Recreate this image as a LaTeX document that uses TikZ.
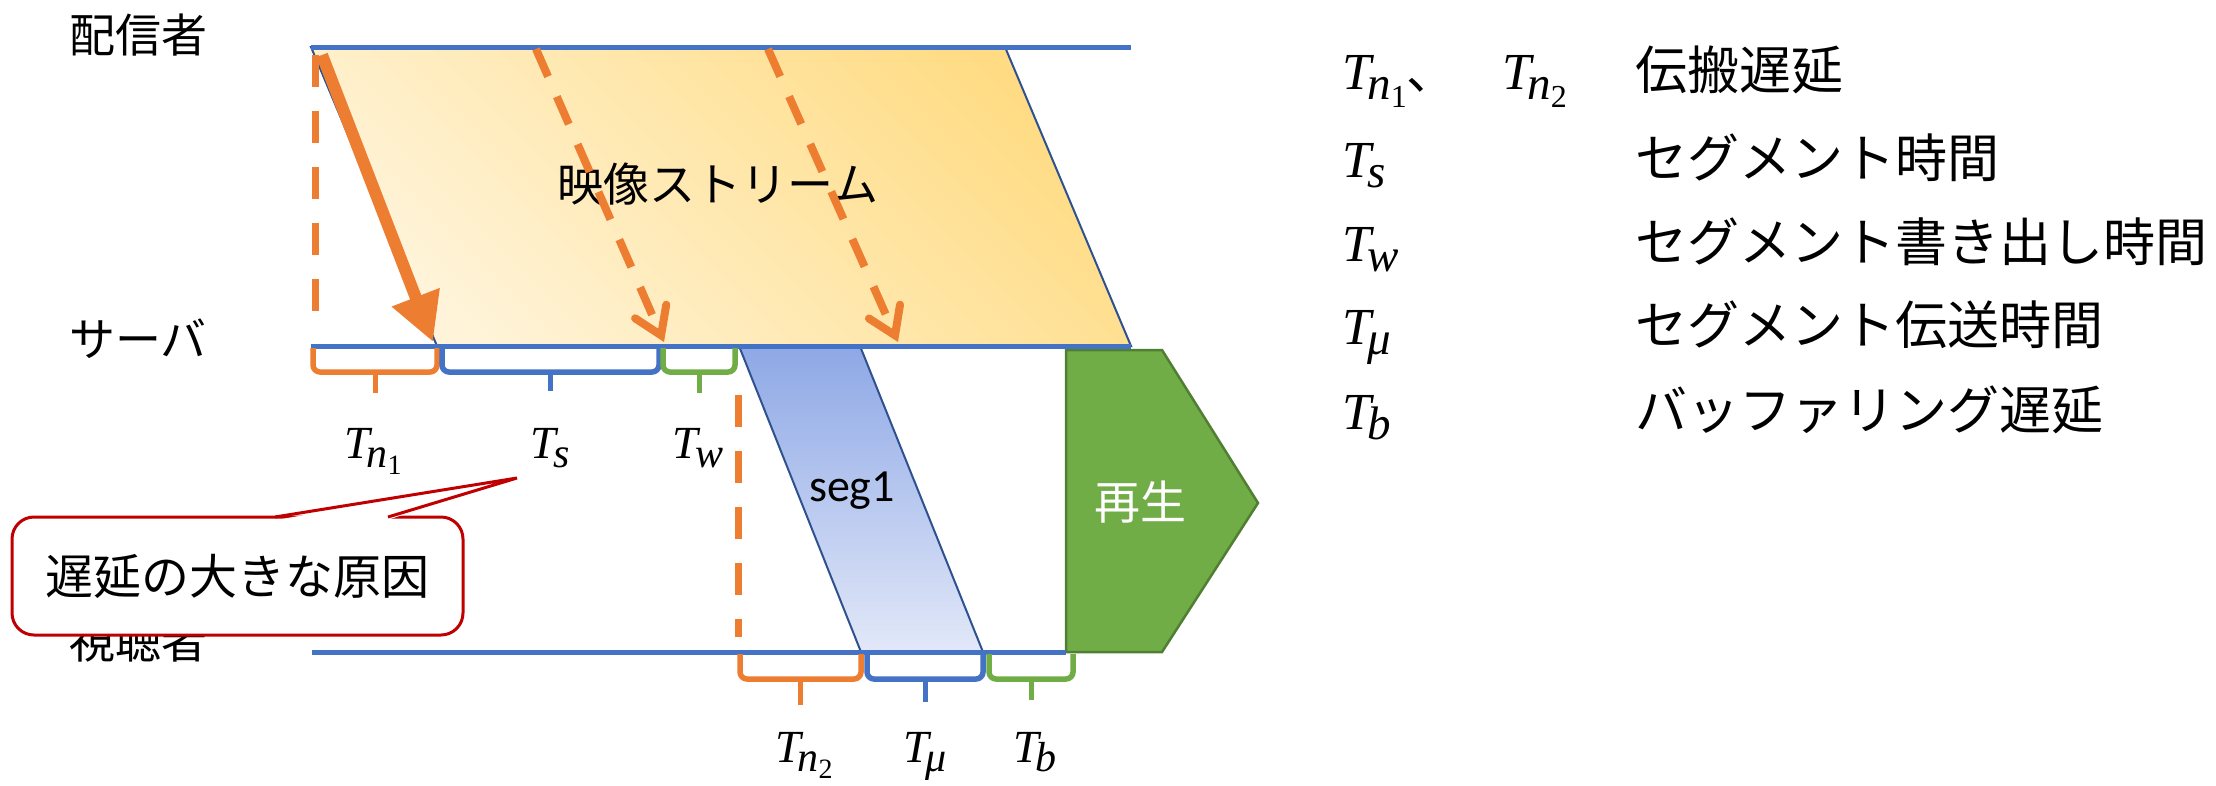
\documentclass[tikz,border=0pt]{standalone}
\usepackage{fontspec}
\newfontfamily\jpfont{Noto Sans CJK JP}
\newfontfamily\segfont{Carlito}
\newfontfamily\mfont{Liberation Serif}
\usetikzlibrary{arrows.meta,calc}
\newcommand{\TT}[3]{{\mfont\fontsize{#1}{#1}\selectfont\itshape T\kern-0.07em\raisebox{-0.2em}{\fontsize{#2}{#2}\selectfont #3}}}
\newcommand{\dg}[2]{\raisebox{-0.17em}{\upshape\fontsize{#1}{#1}\selectfont #2}}
\definecolor{bl}{HTML}{4472C4}
\definecolor{dbl}{HTML}{2F528F}
\definecolor{org}{HTML}{ED7D31}
\definecolor{grn}{HTML}{70AD47}
\definecolor{dgrn}{HTML}{507E32}
\definecolor{rd}{HTML}{C00000}
\definecolor{strtop}{HTML}{FFDC84}
\definecolor{strbot}{HTML}{FFF4DA}
\definecolor{segtop}{HTML}{8EA8E6}
\definecolor{segbot}{HTML}{E2E8F8}
\newcommand{\bracedraw}[6]{%
  \draw[bracestyle,draw=#1] (#2,#4) -- (#2,#5) -- (#3,#5) -- (#3,#4);
  \draw[line width=5pt,draw=#1] ({(#2+#3)/2},#5) -- ({(#2+#3)/2},#6);}
\begin{document}
\begin{tikzpicture}[x=1pt,y=-1pt,
  jp/.style={font=\jpfont\fontsize{46}{50}\selectfont, inner sep=0pt},
  legjp/.style={font=\jpfont\fontsize{52}{58}\selectfont, inner sep=0pt, anchor=base west},
  mth/.style={inner sep=0pt, anchor=base},
  legm/.style={inner sep=0pt, anchor=base west},
  timeline/.style={draw=bl, line width=5pt},
  bracestyle/.style={line width=5.5pt, rounded corners=7pt},
  thickarrow/.style={draw=org, line width=12pt, -{Triangle[length=48pt,width=48pt]}},
  dasharrow/.style={draw=org, line width=8pt, dash pattern=on 30pt off 22pt, -{Straight Barb[length=26pt,width=34pt,line cap=round]}},
  dashline/.style={draw=org, line width=7pt, dash pattern=on 32pt off 24pt},
  calloutbox/.style={draw=rd, line width=3pt, fill=white, rounded corners=22pt, minimum width=451pt, minimum height=118pt, inner sep=0pt, font=\jpfont\fontsize{48}{52}\selectfont},
]
\useasboundingbox (0,0) rectangle (2216,785);

% video stream parallelogram
\shade[top color=strtop, bottom color=strbot, shading angle=-45]
  (311,47) -- (1005,47) -- (1131,346) -- (437,346) -- cycle;
\draw[draw=dbl, line width=2pt] (311,47) -- (1005,47) -- (1131,346) -- (437,346) -- cycle;
\node[jp] (stream) at (718,184) {映像ストリーム};

% seg1 parallelogram
\shade[top color=segtop, bottom color=segbot]
  (739,346) -- (860,346) -- (983,652) -- (861,652) -- cycle;
\draw[draw=dbl, line width=2pt] (739,346) -- (860,346) -- (983,652) -- (861,652) -- cycle;
\node[font=\segfont\fontsize{46}{50}\selectfont, inner sep=0pt] (seg) at (852,491) {seg1};

% play pentagon
\draw[fill=grn, draw=dgrn, line width=2.5pt]
  (1066,350) -- (1162,350) -- (1258,503) -- (1162,652) -- (1066,652) -- cycle;
\node[jp, text=white] (play) at (1140,502) {再生};

% timelines
\coordinate (pubL) at (311,47);  \coordinate (pubR) at (1131,47);
\coordinate (srvL) at (311,346); \coordinate (srvR) at (1131,346);
\coordinate (viwL) at (312,652); \coordinate (viwR) at (1066,652);
\draw[timeline] (pubL) -- (pubR);
\draw[timeline] (srvL) -- (srvR);
\draw[timeline] (viwL) -- (viwR);

% braces
\bracedraw{org}{313}{437}{348}{372}{393}
\bracedraw{bl}{442}{659}{348}{372}{391}
\bracedraw{grn}{663}{735}{348}{372}{393}
\bracedraw{org}{740}{861}{654}{679}{705}
\bracedraw{bl}{867}{983}{654}{679}{702}
\bracedraw{grn}{989}{1073}{654}{679}{700}

% arrows
\coordinate (a1s) at (322,55);  \coordinate (a1e) at (433,342);
\coordinate (a2s) at (536,49);  \coordinate (a2e) at (664,342);
\coordinate (a3s) at (768,49);  \coordinate (a3e) at (898,342);
\draw[thickarrow] (a1s) -- (a1e);
\draw[dasharrow] (a2s) -- (a2e);
\draw[dasharrow] (a3s) -- (a3e);
\coordinate (d1s) at (315,55);  \coordinate (d1e) at (315,312);
\coordinate (d2s) at (738,395); \coordinate (d2e) at (738,637);
\draw[dashline] (d1s) -- (d1e);
\draw[dashline] (d2s) -- (d2e);

% left labels
\node[jp] (pub) at (138,35) {配信者};
\node[jp] (srv) at (138,339) {サーバ};
\node[jp] (viw) at (138,641) {視聴者};

% interval labels
\node[mth] (ltn1) at (373,458) {\TT{46}{42}{n\dg{28}{1}}};
\node[mth] (lts) at (550,458) {\TT{46}{42}{s}};
\node[mth] (ltw) at (698,458) {\TT{46}{42}{w}};
\node[mth] (ltn2) at (804,762) {\TT{46}{42}{n\dg{28}{2}}};
\node[mth] (ltmu) at (925,762) {\TT{46}{42}{μ}};
\node[mth] (ltb) at (1035,762) {\TT{46}{42}{b}};

% callout
\node[calloutbox] (cb) at (237.5,576) {遅延の大きな原因};
\coordinate (p1) at (275,517);
\coordinate (p2) at (388,517);
\coordinate (tip) at (517,478);
\fill[white] ($(p1)+(1,3)$) -- (tip) -- ($(p2)+(-1,3)$) -- cycle;
\draw[draw=rd, line width=3pt, line join=miter] (p1) -- (tip) -- (p2);

% legend
\node[legm] (g1a) at (1342,89) {\TT{52}{47}{n\dg{32}{1}}{\jpfont\fontsize{50}{50}\selectfont 、}};
\node[legm] (g1b) at (1502,89) {\TT{52}{47}{n\dg{32}{2}}};
\node[legjp] (g1) at (1635,89) {伝搬遅延};
\node[legm] (g2a) at (1342,177) {\TT{52}{47}{s}};
\node[legjp] (g2) at (1635,177) {セグメント時間};
\node[legm] (g3a) at (1342,261) {\TT{52}{47}{w}};
\node[legjp] (g3) at (1635,261) {セグメント書き出し時間};
\node[legm] (g4a) at (1342,344) {\TT{52}{47}{μ}};
\node[legjp] (g4) at (1635,344) {セグメント伝送時間};
\node[legm] (g5a) at (1342,429) {\TT{52}{47}{b}};
\node[legjp] (g5) at (1635,429) {バッファリング遅延};
\end{tikzpicture}
\end{document}
